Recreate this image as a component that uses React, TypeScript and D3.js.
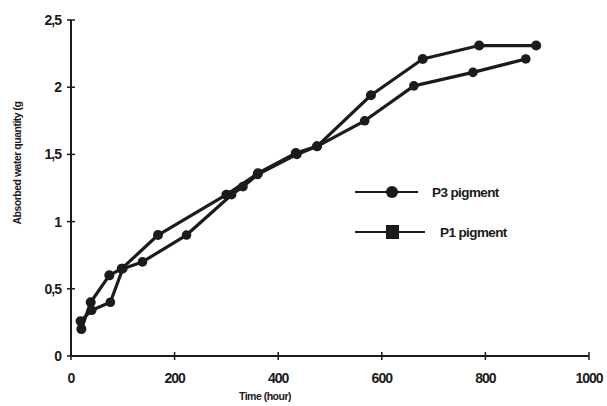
import React from "react";
import * as d3 from "d3";

// hours / grams
const p3Hours = [20, 38, 74, 98, 168, 300, 361, 434, 475, 579, 679, 788, 898];
const p3Water = [0.2, 0.4, 0.6, 0.65, 0.9, 1.2, 1.36, 1.51, 1.56, 1.94, 2.21, 2.31, 2.31];

const p1Hours = [18, 40, 76, 100, 138, 223, 310, 332, 360, 436, 475, 567, 662, 776, 878];
const p1Water = [0.26, 0.34, 0.4, 0.65, 0.7, 0.9, 1.2, 1.26, 1.35, 1.5, 1.56, 1.75, 2.01, 2.11, 2.21];

const xTicks = [0, 200, 400, 600, 800, 1000];
const yTicks = [0, 0.5, 1, 1.5, 2, 2.5];

const ink = "#1c1a1a";
const font = "'Liberation Sans', Arial, sans-serif";

const App = () => {
  const width = 607;
  const height = 406;
  const x = d3.scaleLinear().domain([0, 1000]).range([71, 589]);
  const y = d3.scaleLinear().domain([0, 2.5]).range([356, 20]);

  const line = d3
    .line<[number, number]>()
    .x((d) => x(d[0]))
    .y((d) => y(d[1]));

  const p3 = p3Hours.map((h, i) => [h, p3Water[i]] as [number, number]);
  const p1 = p1Hours.map((h, i) => [h, p1Water[i]] as [number, number]);

  const fmt = (v: number) => String(v).replace(".", ",");

  return (
    <svg
      width={width}
      height={height}
      style={{ position: "absolute", left: 0, top: 0, background: "#fff" }}
      fontFamily={font}
    >
      {/* axes */}
      <line x1={x(0)} x2={x(1000)} y1={y(0)} y2={y(0)} stroke={ink} strokeWidth={2} />
      <line x1={x(0)} x2={x(0)} y1={y(0)} y2={y(2.5)} stroke={ink} strokeWidth={2} />
      {xTicks.map((t) => (
        <g key={"x" + t}>
          <line x1={x(t)} x2={x(t)} y1={y(0) - 4} y2={y(0) + 4} stroke={ink} strokeWidth={1.5} />
          <text
            x={x(t)}
            y={383}
            textAnchor="middle"
            fontSize={14}
            fontWeight="bold"
            letterSpacing={-1}
            fill={ink}
          >
            {t}
          </text>
        </g>
      ))}
      {yTicks.map((t) => (
        <g key={"y" + t}>
          <line x1={x(0) - 4} x2={x(0) + 4} y1={y(t)} y2={y(t)} stroke={ink} strokeWidth={1.5} />
          <text
            x={61}
            y={y(t) + 5}
            textAnchor="end"
            fontSize={14}
            fontWeight="bold"
            letterSpacing={-1}
            fill={ink}
          >
            {fmt(t)}
          </text>
        </g>
      ))}
      <text
        x={265}
        y={400}
        textAnchor="middle"
        fontSize={10.5}
        fontWeight="bold"
        letterSpacing={-0.5}
        fill={ink}
      >
        Time (hour)
      </text>
      <text
        transform={`translate(21,${163}) rotate(-90)`}
        textAnchor="middle"
        fontSize={10.5}
        fontWeight="bold"
        letterSpacing={-0.5}
        fill={ink}
      >
        Absorbed water quantity (g
      </text>

      {/* series */}
      <path d={line(p1) || ""} fill="none" stroke={ink} strokeWidth={3.2} strokeLinejoin="round" />
      <path d={line(p3) || ""} fill="none" stroke={ink} strokeWidth={3.2} strokeLinejoin="round" />
      {p1.map((d, i) => (
        <circle key={"p1" + i} cx={x(d[0])} cy={y(d[1])} r={4.8} fill={ink} />
      ))}
      {p3.map((d, i) => (
        <circle key={"p3" + i} cx={x(d[0])} cy={y(d[1])} r={5} fill={ink} />
      ))}

      {/* legend */}
      <line x1={355} x2={418} y1={192} y2={192} stroke={ink} strokeWidth={2} />
      <circle cx={392} cy={192} r={6} fill={ink} />
      <text x={432} y={197} fontSize={13.5} fontWeight="bold" letterSpacing={-0.6} fill={ink}>
        P3 pigment
      </text>
      <line x1={355} x2={425} y1={232} y2={232} stroke={ink} strokeWidth={2} />
      <rect x={386} y={225} width={13} height={14} fill={ink} />
      <text x={440} y={237} fontSize={13.5} fontWeight="bold" letterSpacing={-0.6} fill={ink}>
        P1 pigment
      </text>
    </svg>
  );
};

export default App;
